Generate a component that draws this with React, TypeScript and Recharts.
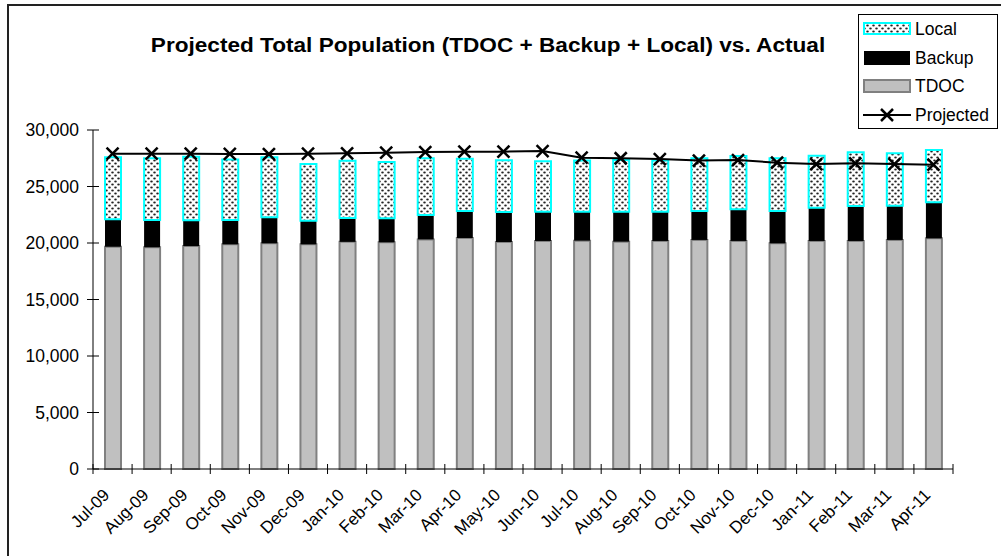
import React from 'react';
import { ComposedChart, Bar, Line, XAxis, YAxis, Legend } from 'recharts';

const months = [
  'Jul-09', 'Aug-09', 'Sep-09', 'Oct-09', 'Nov-09', 'Dec-09', 'Jan-10', 'Feb-10', 'Mar-10', 'Apr-10', 'May-10',
  'Jun-10', 'Jul-10', 'Aug-10', 'Sep-10', 'Oct-10', 'Nov-10', 'Dec-10', 'Jan-11', 'Feb-11', 'Mar-11', 'Apr-11',
];
const tdoc = [
  19670, 19620, 19730, 19880, 19970, 19880, 20100, 20060, 20320, 20440, 20090,
  20180, 20210, 20120, 20180, 20270, 20180, 19970, 20180, 20180, 20270, 20410,
];
const backup = [
  2430, 2420, 2280, 2150, 2300, 2100, 2110, 2120, 2160, 2390, 2650,
  2590, 2560, 2650, 2590, 2560, 2800, 2860, 2950, 3090, 3030, 3190,
];
const local = [
  5480, 5460, 5630, 5370, 5310, 5010, 5060, 4990, 5020, 4630, 4580,
  4460, 4520, 4580, 4520, 4670, 4720, 4670, 4600, 4750, 4640, 4630,
];
const projected = [
  27900, 27900, 27900, 27880, 27870, 27900, 27940, 27990, 28050, 28080, 28080,
  28140, 27550, 27500, 27430, 27290, 27340, 27110, 26990, 27050, 26990, 26930,
];
const yTicks = [0, 5000, 10000, 15000, 20000, 25000, 30000];

const data = months.map((m, i) => ({
  month: m,
  tdoc: tdoc[i],
  backup: backup[i],
  local: local[i],
  projected: projected[i],
}));

const FONT = '"Liberation Sans", Arial, sans-serif';
const PLOT_LEFT = 93;
const PLOT_RIGHT = 953;
const HALF_BAND = (PLOT_RIGHT - PLOT_LEFT) / months.length / 2;

const XTick = (props: any) => {
  const { x, y, payload, index } = props;
  return (
    <g>
      <line x1={x - HALF_BAND} x2={x - HALF_BAND} y1={y - 5} y2={y + 5} stroke="#000" />
      {index === months.length - 1 && (
        <line x1={x + HALF_BAND} x2={x + HALF_BAND} y1={y - 5} y2={y + 5} stroke="#000" />
      )}
      <text
        x={x - 2}
        y={y + 27}
        transform={`rotate(-45, ${x - 2}, ${y + 27})`}
        textAnchor="end"
        fontSize={17}
        fontFamily={FONT}
        fill="#000"
      >
        {payload.value}
      </text>
    </g>
  );
};

const YTick = (props: any) => {
  const { x, y, payload } = props;
  return (
    <g>
      <line x1={x - 6} x2={x + 6} y1={y} y2={y} stroke="#000" />
      <text x={x - 14} y={y} dy="0.35em" textAnchor="end" fontSize={17.5} fontFamily={FONT} fill="#000">
        {payload.value.toLocaleString('en-US')}
      </text>
    </g>
  );
};

const XMark = ({ cx, cy }: { cx: number; cy: number }) => (
  <g>
    <line x1={cx - 6} y1={cy - 6} x2={cx + 6} y2={cy + 6} stroke="#000" strokeWidth={2.5} />
    <line x1={cx - 6} y1={cy + 6} x2={cx + 6} y2={cy - 6} stroke="#000" strokeWidth={2.5} />
  </g>
);

const legendItems = [
  { name: 'Local', kind: 'local' },
  { name: 'Backup', kind: 'backup' },
  { name: 'TDOC', kind: 'tdoc' },
  { name: 'Projected', kind: 'line' },
];

const DotPattern = ({ id }: { id: string }) => (
  <pattern id={id} width={6} height={6} patternUnits="userSpaceOnUse">
    <rect width={6} height={6} fill="#fff" />
    <ellipse cx={1.5} cy={1.5} rx={1.3} ry={0.9} fill="#222" />
    <ellipse cx={4.5} cy={4.5} rx={1.3} ry={0.9} fill="#222" />
  </pattern>
);

const Swatch = ({ kind }: { kind: string }) => (
  <svg width={48} height={16} style={{ display: 'block' }}>
    <defs>
      <DotPattern id="legendDots" />
    </defs>
    {kind === 'local' && <rect x={1} y={2} width={46} height={11} fill="url(#legendDots)" stroke="#00ffff" strokeWidth={2} />}
    {kind === 'backup' && <rect x={1} y={1} width={46} height={14} fill="#000" />}
    {kind === 'tdoc' && <rect x={1} y={2} width={46} height={12} fill="#c0c0c0" stroke="#808080" strokeWidth={2} />}
    {kind === 'line' && (
      <g>
        <line x1={0} x2={48} y1={8} y2={8} stroke="#000" strokeWidth={2} />
        <XMark cx={24} cy={8} />
      </g>
    )}
  </svg>
);

const renderLegend = () => (
  <div
    style={{
      position: 'relative',
      width: 138,
      height: 113,
      border: '1px solid #000',
      background: '#fff',
      fontFamily: FONT,
      fontSize: 17.5,
      color: '#000',
    }}
  >
    {legendItems.map((item, i) => (
      <div
        key={item.name}
        style={{ position: 'absolute', left: 4, top: 6 + i * 28.7, height: 16, display: 'flex', alignItems: 'center' }}
      >
        <Swatch kind={item.kind} />
        <span style={{ marginLeft: 4, lineHeight: '16px' }}>{item.name}</span>
      </div>
    ))}
  </div>
);

export default function App() {
  return (
    <div style={{ position: 'absolute', left: 0, top: 0, width: 1001, height: 556, background: '#fff' }}>
      <div
        style={{
          position: 'absolute',
          left: 7,
          top: 4,
          width: 1000,
          height: 600,
          borderTop: '2px solid #222',
          borderLeft: '2px solid #222',
          boxSizing: 'border-box',
        }}
      />
      <div
        style={{
          position: 'absolute',
          left: 88,
          top: 35,
          width: 800,
          textAlign: 'center',
          fontFamily: FONT,
          fontWeight: 'bold',
          fontSize: 20,
          lineHeight: '20px',
          transform: 'scaleX(1.13)',
          color: '#000',
        }}
      >
        Projected Total Population (TDOC + Backup + Local) vs. Actual
      </div>
      <div style={{ position: 'absolute', left: 0, top: 0 }}>
        <ComposedChart
          width={1001}
          height={556}
          data={data}
          margin={{ top: 130, right: 48, bottom: 7, left: 8 }}
          barSize={16}
        >
          <defs>
            <DotPattern id="localDots" />
          </defs>
          <XAxis
            dataKey="month"
            height={80}
            interval={0}
            tickSize={0}
            tickMargin={0}
            tickLine={false}
            axisLine={{ stroke: '#000' }}
            tick={<XTick />}
          />
          <YAxis
            width={85}
            domain={[0, 30000]}
            ticks={yTicks}
            interval={0}
            tickSize={0}
            tickMargin={0}
            tickLine={false}
            axisLine={{ stroke: '#000' }}
            tick={<YTick />}
          />
          <Bar dataKey="tdoc" name="TDOC" stackId="a" fill="#c0c0c0" stroke="#808080" strokeWidth={2} isAnimationActive={false} />
          <Bar dataKey="backup" name="Backup" stackId="a" fill="#000" isAnimationActive={false} />
          <Bar dataKey="local" name="Local" stackId="a" fill="url(#localDots)" stroke="#00ffff" strokeWidth={2} isAnimationActive={false} />
          <Line
            dataKey="projected"
            name="Projected"
            stroke="#000"
            strokeWidth={2}
            dot={(p: any) => <XMark key={p.index} cx={p.cx} cy={p.cy} />}
            activeDot={false}
            isAnimationActive={false}
          />
          <Legend
            layout="vertical"
            align="center"
            verticalAlign="middle"
            content={renderLegend}
            wrapperStyle={{ position: 'absolute', left: 858, top: 14, width: 140, height: 115 }}
          />
        </ComposedChart>
      </div>
    </div>
  );
}
